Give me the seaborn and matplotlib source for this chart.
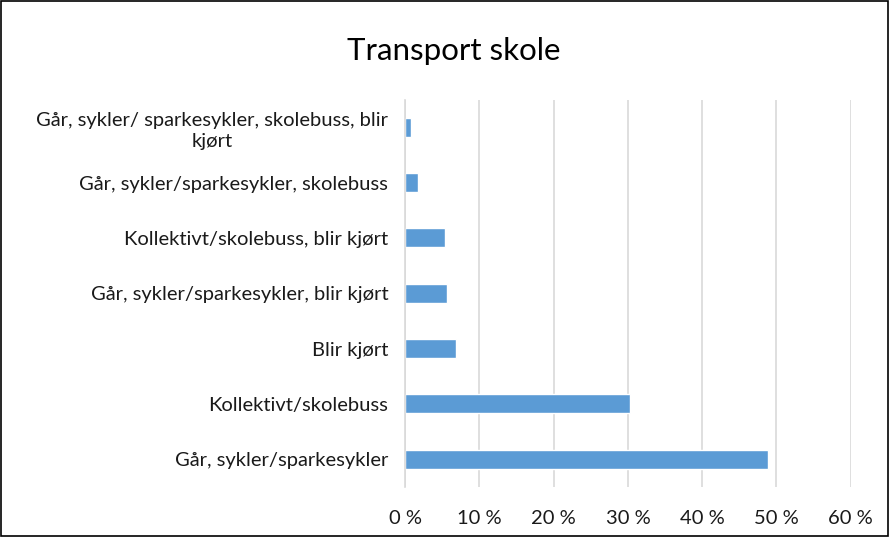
import matplotlib
matplotlib.use("Agg")
import matplotlib.pyplot as plt
import matplotlib.ticker as mticker
import seaborn as sns
import pandas as pd

# data (share of pupils, %)
kategorier = [
    "Går, sykler/ sparkesykler, skolebuss, blir\nkjørt",
    "Går, sykler/sparkesykler, skolebuss",
    "Kollektivt/skolebuss, blir kjørt",
    "Går, sykler/sparkesykler, blir kjørt",
    "Blir kjørt",
    "Kollektivt/skolebuss",
    "Går, sykler/sparkesykler",
]
andel = [0.8, 1.8, 5.4, 5.6, 6.9, 30.3, 48.8]
x_ticks = [0, 10, 20, 30, 40, 50, 60]

df = pd.DataFrame({"kategori": kategorier, "andel": andel})

sns.set_theme(style="white")
plt.rcParams["font.family"] = ["Lato", "DejaVu Sans"]

fig = plt.figure(figsize=(8.89, 5.37), dpi=100)
ax = fig.add_axes([0.4556, 0.0935, 0.5014, 0.721])

sns.barplot(data=df, x="andel", y="kategori", orient="h", color="#5b9bd5",
            width=0.34, ax=ax, saturation=1)

ax.set_xlim(0, 60)
ax.set_xticks(x_ticks)
ax.xaxis.set_major_formatter(mticker.FuncFormatter(lambda v, p: f"{v:.0f} %"))
ax.xaxis.set_ticks_position("none")
ax.tick_params(axis="x", pad=11)
ax.tick_params(axis="y", length=0, pad=12)
for lbl in ax.get_yticklabels():
    lbl.set_multialignment("center")
    lbl.set_linespacing(1.3)
ax.grid(axis="x", color="#d9d9d9", linewidth=1.2)
ax.set_axisbelow(True)
for s in ["top", "right", "bottom"]:
    ax.spines[s].set_visible(False)
ax.spines["left"].set_color("#d9d9d9")
ax.spines["left"].set_linewidth(1.2)
ax.set_xlabel("")
ax.set_ylabel("")
for lbl in ax.get_xticklabels() + ax.get_yticklabels():
    lbl.set_fontsize(14.5)
    lbl.set_color("#1a1a1a")

fig.text(0.51, 0.905, "Transport skole", ha="center", va="center",
         fontsize=22.5, color="#000000")

fig.patches.append(plt.Rectangle((0.001, 0.001), 0.998, 0.997, transform=fig.transFigure,
                                 fill=False, edgecolor="#000000", linewidth=1.2))

fig.savefig("out.png", dpi=100)
